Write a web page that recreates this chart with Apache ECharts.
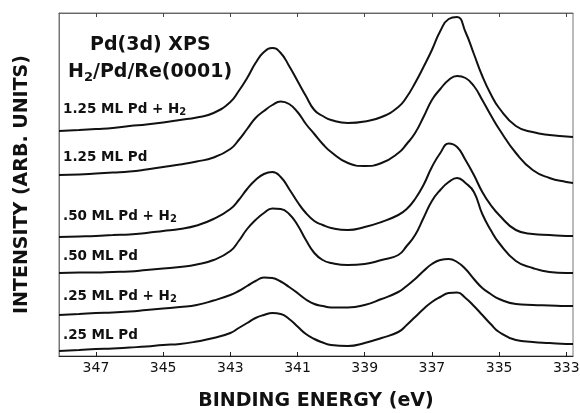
<!DOCTYPE html>
<html>
<head>
<meta charset="utf-8">
<script src="https://cdn.jsdelivr.net/npm/echarts@6/dist/echarts.min.js"></script>
<style>
html,body{margin:0;padding:0;background:#fff;}
#chart{width:580px;height:413px;}
</style>
</head>
<body>
<div id="chart"></div>
<script>
// Binding energy grid (eV)
const energy = [348.1, 347.5, 347, 346.5, 346, 345.5, 345, 344.5, 344, 343.5, 343, 342.75, 342.5, 342.25, 342, 341.75, 341.5, 341.25, 341, 340.75, 340.5, 340.25, 340, 339.5, 339, 338.5, 338, 337.75, 337.5, 337.25, 337, 336.75, 336.5, 336.25, 336, 335.75, 335.5, 335.25, 335, 334.5, 334, 333.5, 333, 332.8];

// Intensities (arb. units, offset stacked as in the figure)
const pd125H2 = [225, 226, 227, 228, 230, 231.5, 233.5, 236, 238.5, 243, 254, 265, 278, 293, 304, 308, 303, 290, 275, 260, 246, 240, 236, 233, 234.5, 239, 249, 259, 273, 289, 306, 325, 337, 339, 324, 302, 280, 262, 248, 230, 224, 221, 219.5, 219];
const pd125   = [181, 181.5, 182.5, 183.5, 184.5, 186.5, 189, 191.5, 194.5, 198.5, 207, 216, 227, 238, 245, 251, 254.5, 252, 244, 232, 222, 212, 204, 193, 190, 193, 203, 212, 223, 239, 256, 267, 276, 280, 278, 270, 256, 241, 227, 203, 186, 178, 174, 173];
const pd050H2 = [119, 119.5, 120, 121, 121.5, 123, 125, 127, 130.5, 137, 147, 156, 167, 176, 182, 184, 179, 167, 154, 143, 135, 131, 128, 126, 129, 134, 141, 147, 157, 171, 189, 203, 212.5, 209, 196, 181, 164, 151, 141, 126, 122, 121, 120, 120];
const pd050   = [83, 83.5, 83.5, 84, 84.5, 86, 87.5, 89, 91.5, 96, 105, 115, 127, 136, 143, 147.5, 147, 142, 131, 116, 103, 96, 93, 91, 92, 96, 101, 110, 121, 138, 155, 166, 174, 178, 173, 164, 142, 126, 113, 95, 88, 84, 83, 83];
const pd025H2 = [41, 42, 43, 43.5, 44.5, 46, 47.5, 49, 51, 55.5, 61, 65, 70, 75, 78.5, 78, 74.5, 69, 63, 56.5, 52, 50, 48.5, 48.5, 51, 57, 64, 70, 77, 85, 92, 96, 97, 94, 87, 77, 68, 62, 57, 52, 51, 50.5, 50, 50];
const pd025   = [5, 6, 7, 7.5, 8.5, 9.5, 11, 12, 14.5, 18, 23, 28, 33, 38, 41, 43, 42, 37, 29.5, 22, 17, 13.5, 11, 10, 13, 18, 24, 31, 39, 47, 54, 59, 63, 63.5, 58, 50, 41, 32, 24, 16, 14, 13, 12, 12];

const tickValues = [347, 345, 343, 341, 339, 337, 335, 333];
const curveLabels = ['1.25 ML Pd + H2', '1.25 ML Pd', '.50 ML Pd + H2', '.50 ML Pd', '.25 ML Pd + H2', '.25 ML Pd'];

const FONT = '"DejaVu Sans", Verdana, sans-serif';
const seriesData = [pd125H2, pd125, pd050H2, pd050, pd025H2, pd025];

const chart = echarts.init(document.getElementById('chart'), null, {renderer: 'canvas'});

function labelRich(t) {
  if (t.endsWith('H2')) {
    return '{a|' + t.slice(0, -1) + '}{s|2}';
  }
  return '{a|' + t + '}';
}

const labelY = [110, 158, 217, 257, 297, 336];

const graphics = [
  {
    type: 'text', left: 90, top: 36,
    style: {text: 'Pd(3d) XPS', font: 'bold 19px ' + FONT, fill: '#111'}
  },
  {
    type: 'text', left: 68, top: 63,
    style: {
      text: '{a|H}{s|2}{a|/Pd/Re(0001)}',
      rich: {
        a: {font: 'bold 19px ' + FONT, fill: '#111'},
        s: {font: 'bold 13px ' + FONT, fill: '#111', padding: [10, 0, 0, 0]}
      }
    }
  }
];
curveLabels.forEach((t, i) => {
  graphics.push({
    type: 'text', left: 63, top: labelY[i] - 8,
    style: {
      text: labelRich(t),
      rich: {
        a: {font: 'bold 13.5px ' + FONT, fill: '#111'},
        s: {font: 'bold 10px ' + FONT, fill: '#111', padding: [7, 0, 0, 0]}
      }
    }
  });
});

const option = {
  backgroundColor: '#fff',
  animation: false,
  grid: {left: 59, right: 7, top: 13, bottom: 57, show: true, borderColor: '#777', borderWidth: 1,
         outerBoundsMode: 'none', containLabel: false},
  xAxis: [
    {
      type: 'value', min: 332.8, max: 348.1, inverse: true, position: 'bottom',
      name: 'BINDING ENERGY (eV)', nameLocation: 'middle', nameGap: 36,
      nameTextStyle: {fontFamily: FONT, fontWeight: 'bold', fontSize: 19, color: '#111'},
      axisLine: {show: true, lineStyle: {color: '#222', width: 1}},
      axisTick: {show: true, inside: true, length: 4, customValues: tickValues, lineStyle: {color: '#222'}},
      axisLabel: {show: true, customValues: tickValues, fontFamily: FONT, fontSize: 14, color: '#111', margin: 5},
      splitLine: {show: false}
    },
    {
      type: 'value', min: 332.8, max: 348.1, inverse: true, position: 'top',
      axisLine: {show: true, lineStyle: {color: '#666', width: 1}},
      axisTick: {show: true, inside: true, length: 4, customValues: tickValues, lineStyle: {color: '#444'}},
      axisLabel: {show: false},
      splitLine: {show: false}
    }
  ],
  yAxis: {
    type: 'value', min: 0, max: 343,
    name: 'INTENSITY (ARB. UNITS)', nameLocation: 'middle', nameGap: 27, nameRotate: 90,
    nameTextStyle: {fontFamily: FONT, fontWeight: 'bold', fontSize: 19, color: '#111'},
    axisLine: {show: true, lineStyle: {color: '#777', width: 1}},
    axisTick: {show: false}, axisLabel: {show: false}, splitLine: {show: false}
  },
  graphic: graphics,
  series: seriesData.map((arr, k) => ({
    type: 'line', name: curveLabels[k], xAxisIndex: 0,
    data: energy.map((e, i) => [e, arr[i]]),
    showSymbol: false, smooth: 0.5,
    lineStyle: {color: '#111', width: 2},
    silent: true
  }))
};
chart.setOption(option);
</script>
</body>
</html>
